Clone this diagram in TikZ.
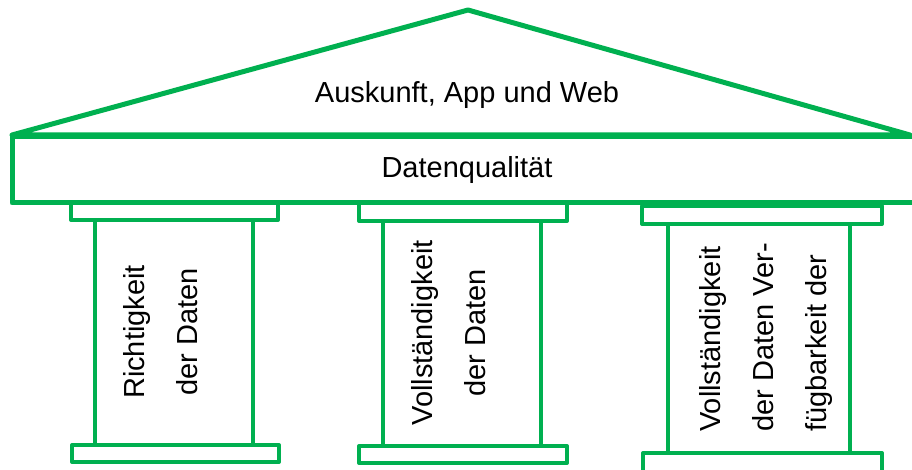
\documentclass[tikz,border=0pt]{standalone}
\usepackage{fontspec}
\setmainfont{Liberation Sans}
\definecolor{tgreen}{RGB}{0,176,80}

\begin{document}
\begin{tikzpicture}[x=1pt,y=-1pt,
    tempel/.style={draw=tgreen,fill=white,line width=5pt,line join=round,outer sep=0pt,inner sep=0pt},
    stein/.style={tempel,line width=4pt,anchor=north west},
    schrift/.style={font=\fontsize{29}{53}\selectfont,inner sep=0pt}]
  \useasboundingbox (0,0) rectangle (912,470);
  \clip (0,0) rectangle (912,470);

  % Dach
  \coordinate (dachL) at (12,135);
  \coordinate (spitze) at (468,10);
  \coordinate (dachR) at (910,135);
  \draw[tempel] (dachL) -- (spitze) -- (dachR) -- cycle;
  \node[schrift] (dach) at (467,95.5) {Auskunft, App und Web};

  % Saeulen
  \node[stein,minimum width=158pt,minimum height=225pt] (schaft1) at (95,220) {};
  \node[stein,minimum width=207pt,minimum height=17pt]  (kopf1)   at (71,203) {};
  \node[stein,minimum width=207pt,minimum height=17pt]  (fuss1)   at (72,445) {};

  \node[stein,minimum width=158pt,minimum height=225pt] (schaft2) at (383,221) {};
  \node[stein,minimum width=208pt,minimum height=18pt]  (kopf2)   at (359,203) {};
  \node[stein,minimum width=208pt,minimum height=17pt]  (fuss2)   at (359,446) {};

  \node[stein,minimum width=182pt,minimum height=229pt] (schaft3) at (668,224) {};
  \node[stein,minimum width=240pt,minimum height=18pt]  (kopf3)   at (642,206) {};
  \node[stein,minimum width=239pt,minimum height=21pt]  (fuss3)   at (643,453) {};

  % Balken
  \node[tempel,anchor=north west,minimum width=910pt,minimum height=66pt,schrift] (balken) at (12,137) {Datenqualität};

  \node[schrift,rotate=90,align=center] (text1) at (161,332) {Richtigkeit\\der Daten};
  \node[schrift,rotate=90,align=center] (text2) at (449,333) {Vollständigkeit\\der Daten};
  \node[schrift,rotate=90,align=left,anchor=west] (text3) at (766,432) {Vollständigkeit\\der Daten Ver-\\fügbarkeit der};
\end{tikzpicture}
\end{document}
